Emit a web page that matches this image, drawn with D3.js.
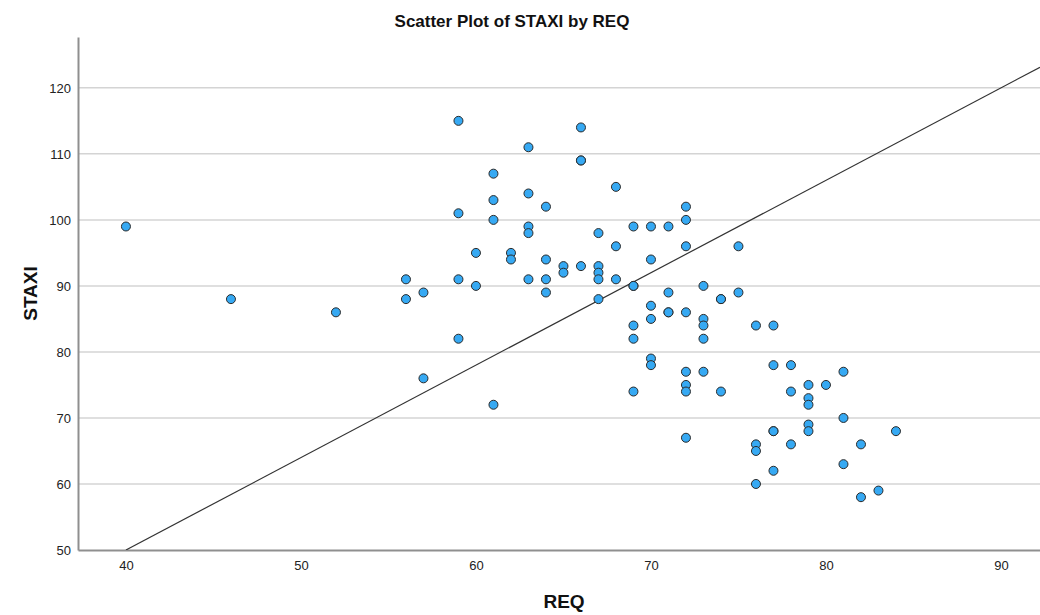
<!DOCTYPE html>
<html lang="en">
<head>
  <meta charset="UTF-8">
  <title>Scatter Plot of STAXI by REQ</title>
  <script src="https://d3js.org/d3.v7.min.js"></script>
  <style>
    body { margin: 0; background: #fff; }
    svg { display: block; font-family: Arial, "Liberation Sans", sans-serif; }
  </style>
</head>
<body>
  <div id="chart"></div>
  <script>
    // data
    const req = [40, 46, 52, 56, 56, 57, 57,
      59, 59, 59, 59, 60, 60, 61, 61, 61, 61, 62, 62,
      63, 63, 63, 63, 63, 64, 64, 64, 64, 65, 65,
      66, 66, 66, 66, 67, 67, 67, 67, 67, 68, 68, 68,
      69, 69, 69, 69, 69, 69, 70, 70, 70, 70, 70, 70,
      71, 71, 71, 71, 72, 72, 72, 72, 72, 72, 72, 72,
      73, 73, 73, 73, 73, 74, 74, 74, 75, 75,
      76, 76, 76, 76, 77, 77, 77, 77, 77, 78, 78, 78,
      79, 79, 79, 79, 79, 80, 81, 81, 81, 82, 82, 83, 84];
    const staxi = [99, 88, 86, 91, 88, 89, 76,
      115, 101, 91, 82, 95, 90, 107, 103, 100, 72, 95, 94,
      111, 104, 99, 98, 91, 102, 94, 91, 89, 93, 92,
      114, 109, 109, 93, 98, 93, 92, 91, 88, 105, 96, 91,
      99, 90, 90, 84, 82, 74, 99, 94, 87, 85, 79, 78,
      99, 89, 86, 86, 102, 100, 96, 86, 77, 75, 74, 67,
      90, 85, 84, 82, 77, 88, 88, 74, 96, 89,
      84, 66, 65, 60, 84, 78, 68, 68, 62, 78, 74, 66,
      75, 73, 72, 69, 68, 75, 77, 70, 63, 66, 58, 59, 68];
    const xTicks = [40, 50, 60, 70, 80, 90];
    const yTicks = [50, 60, 70, 80, 90, 100, 110, 120];
    const xDomain = [37.26, 92.23];
    const yDomain = [50, 127.7];
    // reference line drawn in the chart: STAXI = slope * REQ + intercept
    const refSlope = 1.4, refIntercept = -6;

    const width = 1040, height = 615;
    const plotLeft = 78, plotRight = 1040, plotTop = 37, plotBottom = 550;

    const x = d3.scaleLinear().domain(xDomain).range([plotLeft, plotRight]);
    const y = d3.scaleLinear().domain(yDomain).range([plotBottom, plotTop]);

    const svg = d3.select("#chart").append("svg")
      .attr("width", width).attr("height", height);

    // horizontal grid lines
    svg.append("g")
      .selectAll("line")
      .data(yTicks.filter(d => d > yDomain[0]))
      .join("line")
      .attr("x1", plotLeft).attr("x2", plotRight)
      .attr("y1", d => y(d)).attr("y2", d => y(d))
      .attr("stroke", "#d4d4d4").attr("stroke-width", 1.5);

    // y axis
    const yAxis = svg.append("g")
      .attr("transform", `translate(${plotLeft},0)`)
      .call(d3.axisLeft(y).tickValues(yTicks).tickSize(0).tickPadding(7));
    // x axis
    const xAxis = svg.append("g")
      .attr("transform", `translate(0,${plotBottom})`)
      .call(d3.axisBottom(x).tickValues(xTicks).tickSize(0).tickPadding(11));

    [xAxis, yAxis].forEach(g => {
      g.select(".domain").attr("stroke", "#8f8f8f").attr("stroke-width", 2);
      g.selectAll("text")
        .attr("font-size", 13)
        .attr("font-family", "Arial, 'Liberation Sans', sans-serif")
        .attr("fill", "#222");
    });

    // reference line, clipped to the plot area
    svg.append("clipPath").attr("id", "plot-clip")
      .append("rect").attr("x", plotLeft).attr("y", plotTop)
      .attr("width", plotRight - plotLeft).attr("height", plotBottom - plotTop);

    const lx0 = (yDomain[0] - refIntercept) / refSlope;
    const lx1 = xDomain[1];
    svg.append("line")
      .attr("clip-path", "url(#plot-clip)")
      .attr("x1", x(lx0)).attr("y1", y(refSlope * lx0 + refIntercept))
      .attr("x2", x(lx1)).attr("y2", y(refSlope * lx1 + refIntercept))
      .attr("stroke", "#333").attr("stroke-width", 1.2);

    // points
    svg.append("g")
      .selectAll("circle")
      .data(req.map((r, i) => [r, staxi[i]]))
      .join("circle")
      .attr("cx", d => x(d[0]))
      .attr("cy", d => y(d[1]))
      .attr("r", 4.5)
      .attr("fill", "#36a9f3")
      .attr("stroke", "#2a2a2a")
      .attr("stroke-width", 1);

    // titles
    svg.append("text")
      .attr("x", 512).attr("y", 27)
      .attr("text-anchor", "middle")
      .attr("font-size", 17).attr("font-weight", "bold")
      .attr("fill", "#111")
      .text("Scatter Plot of STAXI by REQ");

    svg.append("text")
      .attr("x", (plotLeft + plotRight) / 2 + 5).attr("y", 608)
      .attr("text-anchor", "middle")
      .attr("font-size", 19).attr("font-weight", "bold")
      .attr("fill", "#111")
      .text("REQ");

    svg.append("text")
      .attr("transform", `translate(37,${(plotTop + plotBottom) / 2}) rotate(-90)`)
      .attr("text-anchor", "middle")
      .attr("font-size", 19).attr("font-weight", "bold")
      .attr("fill", "#111")
      .text("STAXI");
  </script>
</body>
</html>
